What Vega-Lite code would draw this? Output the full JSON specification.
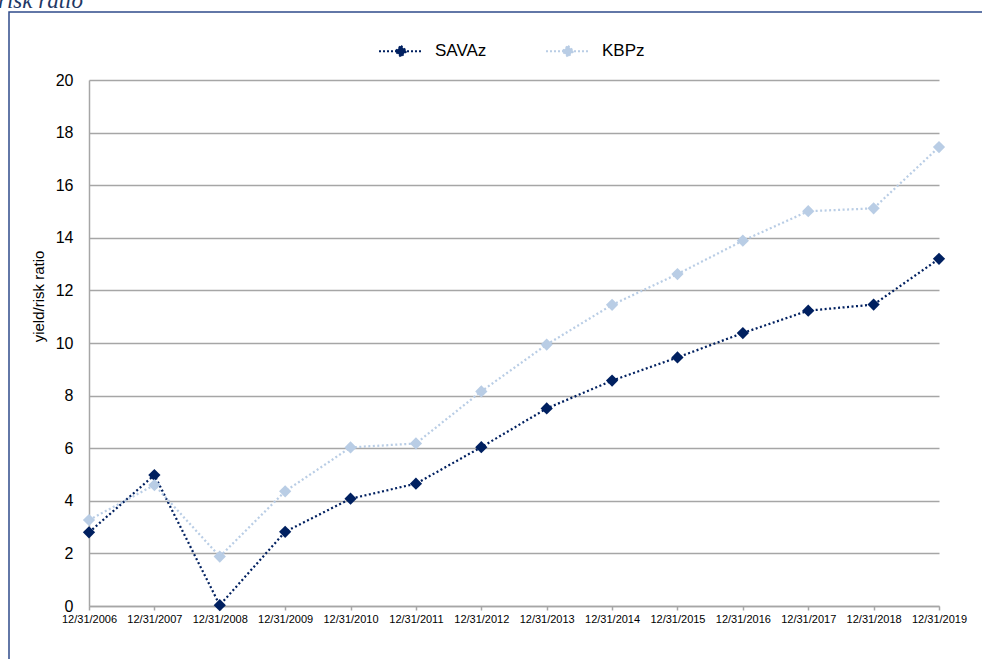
{
  "$schema": "https://vega.github.io/schema/vega-lite/v6.json",
  "autosize": {"type": "none"},
  "padding": {"left": 9, "top": 12, "right": 0, "bottom": 0},
  "width": 1100,
  "height": 720,
  "background": "white",
  "title": {
    "text": "risk ratio",
    "anchor": "start",
    "frame": "group",
    "font": "Liberation Serif",
    "fontStyle": "italic",
    "fontWeight": "normal",
    "fontSize": 23,
    "color": "#1F3864",
    "baseline": "bottom",
    "offset": -24,
    "dx": -11
  },
  "config": {
    "view": {"stroke": "#2F4B8A", "strokeWidth": 1.5},
    "font": "Liberation Sans"
  },
  "data": {
    "values": [
      {"date": "12/31/2006", "series": "SAVAz", "value": 2.8},
      {"date": "12/31/2007", "series": "SAVAz", "value": 4.98},
      {"date": "12/31/2008", "series": "SAVAz", "value": 0.03},
      {"date": "12/31/2009", "series": "SAVAz", "value": 2.82},
      {"date": "12/31/2010", "series": "SAVAz", "value": 4.08},
      {"date": "12/31/2011", "series": "SAVAz", "value": 4.65},
      {"date": "12/31/2012", "series": "SAVAz", "value": 6.04},
      {"date": "12/31/2013", "series": "SAVAz", "value": 7.51},
      {"date": "12/31/2014", "series": "SAVAz", "value": 8.57},
      {"date": "12/31/2015", "series": "SAVAz", "value": 9.45},
      {"date": "12/31/2016", "series": "SAVAz", "value": 10.38},
      {"date": "12/31/2017", "series": "SAVAz", "value": 11.23},
      {"date": "12/31/2018", "series": "SAVAz", "value": 11.46},
      {"date": "12/31/2019", "series": "SAVAz", "value": 13.2},
      {"date": "12/31/2006", "series": "KBPz", "value": 3.27},
      {"date": "12/31/2007", "series": "KBPz", "value": 4.6},
      {"date": "12/31/2008", "series": "KBPz", "value": 1.88},
      {"date": "12/31/2009", "series": "KBPz", "value": 4.36},
      {"date": "12/31/2010", "series": "KBPz", "value": 6.03},
      {"date": "12/31/2011", "series": "KBPz", "value": 6.18},
      {"date": "12/31/2012", "series": "KBPz", "value": 8.16},
      {"date": "12/31/2013", "series": "KBPz", "value": 9.94},
      {"date": "12/31/2014", "series": "KBPz", "value": 11.45},
      {"date": "12/31/2015", "series": "KBPz", "value": 12.62},
      {"date": "12/31/2016", "series": "KBPz", "value": 13.89},
      {"date": "12/31/2017", "series": "KBPz", "value": 15.01},
      {"date": "12/31/2018", "series": "KBPz", "value": 15.12},
      {"date": "12/31/2019", "series": "KBPz", "value": 17.45}
    ]
  },
  "encoding": {
    "x": {
      "field": "date",
      "type": "ordinal",
      "sort": null,
      "scale": {"type": "point", "padding": 0, "range": [80, 930]},
      "axis": {
        "orient": "bottom",
        "offset": -126,
        "title": null,
        "labelAngle": 0,
        "labelFontSize": 11,
        "labelColor": "#000000",
        "labelPadding": 3,
        "labelOverlap": false,
        "labelBound": false,
        "tickSize": 4,
        "tickColor": "#A6A6A6",
        "tickWidth": 1.5,
        "domainColor": "#A6A6A6",
        "domainWidth": 1.5,
        "grid": false
      }
    },
    "y": {
      "field": "value",
      "type": "quantitative",
      "scale": {"domain": [0, 20], "range": [594, 68], "nice": false, "zero": false},
      "axis": {
        "orient": "left",
        "offset": -80,
        "values": [0, 2, 4, 6, 8, 10, 12, 14, 16, 18, 20],
        "title": "yield/risk ratio",
        "titleFontSize": 15,
        "titleFontWeight": "normal",
        "titleColor": "#000000",
        "titlePadding": 9,
        "titleY": 284,
        "labelFontSize": 16,
        "labelColor": "#000000",
        "labelPadding": 16,
        "ticks": false,
        "grid": true,
        "gridColor": "#A6A6A6",
        "gridWidth": 1.5,
        "domainColor": "#A6A6A6",
        "domainWidth": 1.5
      }
    },
    "color": {
      "field": "series",
      "type": "nominal",
      "sort": null,
      "scale": {"domain": ["SAVAz", "KBPz"], "range": ["#002060", "#B9CDE5"]},
      "legend": {
        "title": null,
        "orient": "none",
        "legendX": 369,
        "legendY": 16,
        "direction": "horizontal",
        "columnPadding": 55,
        "labelFontSize": 17,
        "labelColor": "#000000",
        "labelOffset": 11,
        "symbolType": "M-1,0H1M0,-0.25L0.25,0L0,0.25L-0.25,0Z",
        "symbolSize": 1936,
        "symbolStrokeWidth": 2,
        "symbolDash": [2, 2],
        "encode": {
          "symbols": {
            "update": {
              "fill": {"scale": "color", "field": "value"},
              "stroke": {"scale": "color", "field": "value"},
              "opacity": {"value": 1}
            }
          }
        }
      }
    }
  },
  "layer": [
    {
      "mark": {"type": "line", "strokeDash": [2, 2.5], "strokeWidth": 2.25}
    },
    {
      "mark": {"type": "point", "shape": "diamond", "filled": true, "size": 150, "opacity": 1}
    }
  ]
}
